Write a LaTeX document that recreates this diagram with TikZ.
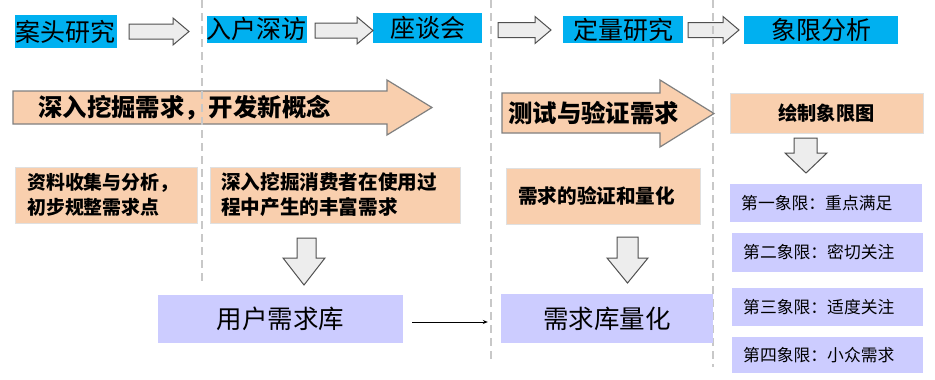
\documentclass[tikz,border=0pt]{standalone}
\usepackage{fontspec}
\usetikzlibrary{arrows.meta}
\setmainfont{Noto Sans CJK SC}
\definecolor{hblue}{HTML}{00B0F0}
\definecolor{peach}{HTML}{F9CFAE}
\definecolor{lav}{HTML}{CCCCFF}
\definecolor{harrowfill}{HTML}{EDEDED}
\definecolor{harrowline}{HTML}{505050}
\definecolor{dashgray}{HTML}{C8C8C8}
\tikzset{
  hdr/.style={fill=hblue, inner sep=0pt, text=black, font=\fontsize{25}{27}\selectfont},
  peachbox/.style={fill=peach, draw=black!12, line width=1pt, inner sep=0pt},
  lavbox/.style={fill=lav, inner sep=0pt},
  hollow/.style={fill=harrowfill, draw=harrowline, line width=1pt, line join=miter},
  bigarrow/.style={fill=peach, draw=black!50, line width=1.2pt, line join=miter},
  sep/.style={draw=dashgray, line width=1.5pt, dash pattern=on 8pt off 5pt},
  boldtxt/.style={inner sep=0pt, font=\bfseries\fontsize{18.9}{25}\selectfont, align=left},
  qtxt/.style={inner sep=0pt, font=\fontsize{16.8}{18}\selectfont},
  bigtxt/.style={inner sep=0pt, font=\fontsize{25.5}{27}\selectfont},
  arrowtxt/.style={inner sep=0pt, font=\bfseries\fontsize{24.4}{26}\selectfont},
}
\newcommand\hollowright[3]{% x1, x2, ycenter
  \draw[hollow] (#1,#3-7.5) -- (#2-16,#3-7.5) -- (#2-16,#3-13.5) -- (#2,#3)
    -- (#2-16,#3+13.5) -- (#2-16,#3+7.5) -- (#1,#3+7.5) -- cycle;}
\newcommand\hollowdown[6]{% body x1, body x2, head x1, head x2, ytop, yheadstart; tip y in \ytip
  \draw[hollow] (#1,#5) -- (#2,#5) -- (#2,#6) -- (#4,#6) -- ({(#3+#4)/2},\ytip) -- (#3,#6) -- (#1,#6) -- cycle;}
\begin{document}
\begin{tikzpicture}[x=1pt,y=-1pt]
\useasboundingbox (0,0) rectangle (935,380);
\fill[white] (0,0) rectangle (935,380);

% header boxes
\node[hdr, minimum width=102pt, minimum height=33pt] (h1) at (66,31.5) {案头研究};
\node[hdr, minimum width=99pt, minimum height=27pt] (h2) at (256.5,29.5) {入户深访};
\node[hdr, minimum width=109pt, minimum height=30pt] (h3) at (427.5,28) {座谈会};
\node[hdr, minimum width=120pt, minimum height=27pt] (h4) at (623,29.5) {定量研究};
\node[hdr, minimum width=154pt, minimum height=28pt] (h5) at (821,30) {象限分析};

% hollow arrows between headers
\hollowright{129}{189}{31.5}
\hollowright{315}{373}{30.5}
\hollowright{498}{551}{30}
\hollowright{688}{739}{30}

% big arrows
\draw[bigarrow] (13,91) -- (387,91) -- (387,80) -- (432,107.5) -- (387,135) -- (387,124) -- (13,124) -- cycle;
\draw[bigarrow] (502,93) -- (660,93) -- (660,80) -- (714,113.5) -- (660,147) -- (660,133) -- (502,133) -- cycle;

% separators
\draw[sep] (202,0) -- (202,285);
\draw[sep] (491,0) -- (491,362);
\draw[sep] (713,0) -- (713,367);

\node[arrowtxt, anchor=west] (t1) at (38,107.5) {深入挖掘需求，开发新概念};
\node[arrowtxt, anchor=west] (t2) at (508,113.5) {测试与验证需求};

% peach boxes
\node[peachbox, minimum width=193pt, minimum height=40pt] (p4) at (826.5,113) {};
\node[boldtxt, font=\bfseries\fontsize{19.2}{21}\selectfont] (p4t) at (p4.center) {绘制象限图};
\node[peachbox, minimum width=182pt, minimum height=56pt] (p1) at (106,195) {};
\node[boldtxt, anchor=west] (p1t) at (27,195) {资料收集与分析，\\初步规整需求点};
\node[peachbox, minimum width=250pt, minimum height=56pt] (p2) at (335,195) {};
\node[boldtxt, anchor=west, font=\bfseries\fontsize{19.6}{25}\selectfont] (p2t) at (221,195) {深入挖掘消费者在使用过\\程中产生的丰富需求};
\node[peachbox, minimum width=194pt, minimum height=56pt] (p3) at (603,196) {};
\node[boldtxt, anchor=west, font=\bfseries\fontsize{19.6}{21}\selectfont] (p3t) at (518,196) {需求的验证和量化};

% down arrows
\def\ytip{285}
\hollowdown{297}{316}{283}{325}{238}{258}
\def\ytip{283}
\hollowdown{617}{638}{607}{648}{237}{258}
\def\ytip{173}
\hollowdown{794}{817}{785}{827}{138}{153}

% lavender boxes
\node[lavbox, minimum width=245pt, minimum height=48pt] (ku) at (280.5,319) {};
\node[bigtxt] (kut) at (ku.center) {用户需求库};
\node[lavbox, minimum width=212pt, minimum height=49pt] (lh) at (607,318.5) {};
\node[bigtxt] (lht) at (lh.center) {需求库量化};

\node[lavbox, minimum width=192pt, minimum height=38pt] (q1) at (826,203) {};
\node[qtxt, anchor=west] (q1t) at (741,203) {第一象限：重点满足};
\node[lavbox, minimum width=191pt, minimum height=39pt] (q2) at (827.5,252.5) {};
\node[qtxt, anchor=west] (q2t) at (743,252.5) {第二象限：密切关注};
\node[lavbox, minimum width=191pt, minimum height=38pt] (q3) at (827.5,307) {};
\node[qtxt, anchor=west] (q3t) at (743,307) {第三象限：适度关注};
\node[lavbox, minimum width=191pt, minimum height=36pt] (q4) at (827.5,355) {};
\node[qtxt, anchor=west] (q4t) at (743,355) {第四象限：小众需求};

% connector
\draw[-{Stealth[length=5pt,width=4pt]}, line width=0.8pt, shorten <=9pt, shorten >=13pt]
  ([yshift=-3pt]ku.east) -- ([yshift=-3pt]ku.east -| lh.west);
\end{tikzpicture}
\end{document}
